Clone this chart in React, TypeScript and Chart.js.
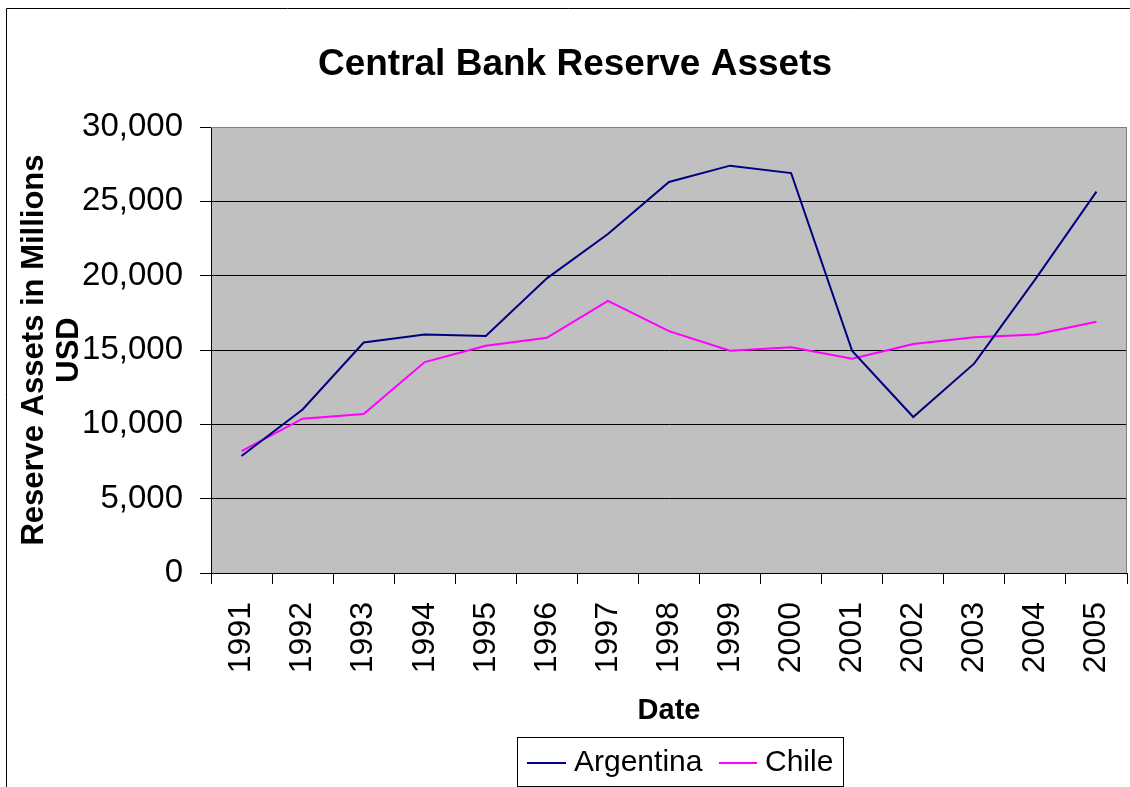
import React, { useEffect, useRef } from "react";
import { Chart, registerables } from "chart.js";

Chart.register(...registerables);

const years = ["1991", "1992", "1993", "1994", "1995", "1996", "1997", "1998", "1999", "2000", "2001", "2002", "2003", "2004", "2005"];
const argentina = [7870, 11000, 15500, 16050, 15940, 19820, 22800, 26300, 27400, 26900, 14930, 10490, 14100, 19770, 25650];
const chile = [8200, 10380, 10700, 14190, 15290, 15820, 18300, 16270, 14950, 15180, 14410, 15400, 15850, 16050, 16900];
const yTicks = [0, 5000, 10000, 15000, 20000, 25000, 30000];
const titleText = "Central Bank Reserve Assets";
const yTitleLines = ["Reserve Assets in Millions", "USD"];
const xTitleText = "Date";
const seriesNames = ["Argentina", "Chile"];
const seriesColors = ["#000080", "#FF00FF"];

const FONT = "'Liberation Sans', Arial, Helvetica, sans-serif";

const decorPlugin = {
  id: "decor",
  beforeDraw(chart: any) {
    const { ctx, chartArea } = chart;
    ctx.save();
    ctx.fillStyle = "#fff";
    ctx.fillRect(0, 0, chart.width, chart.height);
    ctx.fillStyle = "#C0C0C0";
    ctx.fillRect(chartArea.left, chartArea.top, chartArea.right - chartArea.left, chartArea.bottom - chartArea.top);
    // outer frame
    ctx.strokeStyle = "#000";
    ctx.lineWidth = 1;
    ctx.beginPath();
    ctx.moveTo(6.5, chart.height);
    ctx.lineTo(6.5, 8.5);
    ctx.lineTo(chart.width, 8.5);
    ctx.stroke();
    ctx.restore();
  },
  beforeDatasetsDraw(chart: any) {
    const { ctx, chartArea } = chart;
    ctx.save();
    ctx.strokeStyle = "#808080";
    ctx.lineWidth = 1;
    ctx.beginPath();
    ctx.moveTo(chartArea.left, chartArea.top + 0.5);
    ctx.lineTo(chartArea.right - 0.5, chartArea.top + 0.5);
    ctx.lineTo(chartArea.right - 0.5, chartArea.bottom);
    ctx.stroke();
    ctx.restore();
  },
  afterDraw(chart: any) {
    const { ctx, chartArea } = chart;
    ctx.save();
    ctx.fillStyle = "#000";
    // title
    ctx.font = `bold 37px ${FONT}`;
    ctx.textAlign = "center";
    ctx.textBaseline = "alphabetic";
    ctx.fillText(titleText, 575, 75);
    // y title
    const cy = (chartArea.top + chartArea.bottom) / 2;
    ctx.font = `bold 31px ${FONT}`;
    [43, 78].forEach((bx, i) => {
      ctx.save();
      ctx.translate(bx, cy);
      ctx.rotate(-Math.PI / 2);
      ctx.fillText(yTitleLines[i], 0, 0);
      ctx.restore();
    });
    // x title
    ctx.font = `bold 29px ${FONT}`;
    ctx.fillText(xTitleText, (chartArea.left + chartArea.right) / 2, 719);
    // legend
    ctx.strokeStyle = "#000";
    ctx.lineWidth = 1;
    ctx.strokeRect(517.5, 737.5, 326, 49);
    const items = [
      { x1: 527, x2: 566, tx: 574 },
      { x1: 719, x2: 757, tx: 765 },
    ];
    ctx.font = `30px ${FONT}`;
    ctx.textAlign = "left";
    ctx.textBaseline = "middle";
    items.forEach((it, i) => {
      ctx.strokeStyle = seriesColors[i];
      ctx.lineWidth = 2;
      ctx.beginPath();
      ctx.moveTo(it.x1, 763);
      ctx.lineTo(it.x2, 763);
      ctx.stroke();
      ctx.fillStyle = "#000";
      ctx.fillText(seriesNames[i], it.tx, 763);
    });
    ctx.restore();
  },
};

export default function App() {
  const ref = useRef<HTMLCanvasElement | null>(null);
  useEffect(() => {
    if (!ref.current) return;
    const chart = new Chart(ref.current, {
      type: "line",
      data: {
        labels: years,
        datasets: [
          { label: seriesNames[0], data: argentina, borderColor: seriesColors[0], borderWidth: 2, pointRadius: 0, tension: 0, fill: false },
          { label: seriesNames[1], data: chile, borderColor: seriesColors[1], borderWidth: 2, pointRadius: 0, tension: 0, fill: false },
        ],
      },
      options: {
        animation: false,
        responsive: false,
        devicePixelRatio: 1,
        layout: { padding: { top: 127, right: 3, left: 0, bottom: 0 } },
        plugins: { legend: { display: false }, title: { display: false }, tooltip: { enabled: false } },
        scales: {
          x: {
            type: "category",
            offset: true,
            afterFit: (s: any) => { s.height = 214; s.paddingLeft = 0; s.paddingRight = 0; },
            grid: { display: true, drawOnChartArea: false, offset: true, tickLength: 11, color: "#000", tickColor: "#000" },
            border: { display: true, color: "#000", width: 1 },
            ticks: { minRotation: 90, maxRotation: 90, padding: 18, color: "#000", font: { family: FONT, size: 32 }, autoSkip: false },
          },
          y: {
            min: 0,
            max: 30000,
            afterFit: (s: any) => { s.width = 211; s.paddingTop = 0; s.paddingBottom = 0; },
            afterBuildTicks: (s: any) => { s.ticks = yTicks.map((v) => ({ value: v })); },
            grid: {
              color: (c: any) => (c.tick && c.tick.value === 30000 ? "#808080" : "#000"),
              tickColor: "#000",
              tickLength: 11,
            },
            border: { display: true, color: "#000", width: 1 },
            ticks: {
              padding: 17,
              color: "#000",
              font: { family: FONT, size: 33 },
              callback: (v: any) => Number(v).toLocaleString("en-US"),
            },
          },
        },
      },
      plugins: [decorPlugin],
    });
    return () => chart.destroy();
  }, []);
  return (
    <div style={{ position: "absolute", left: 0, top: 0, width: 1130, height: 787 }}>
      <canvas ref={ref} width={1130} height={787} />
    </div>
  );
}
